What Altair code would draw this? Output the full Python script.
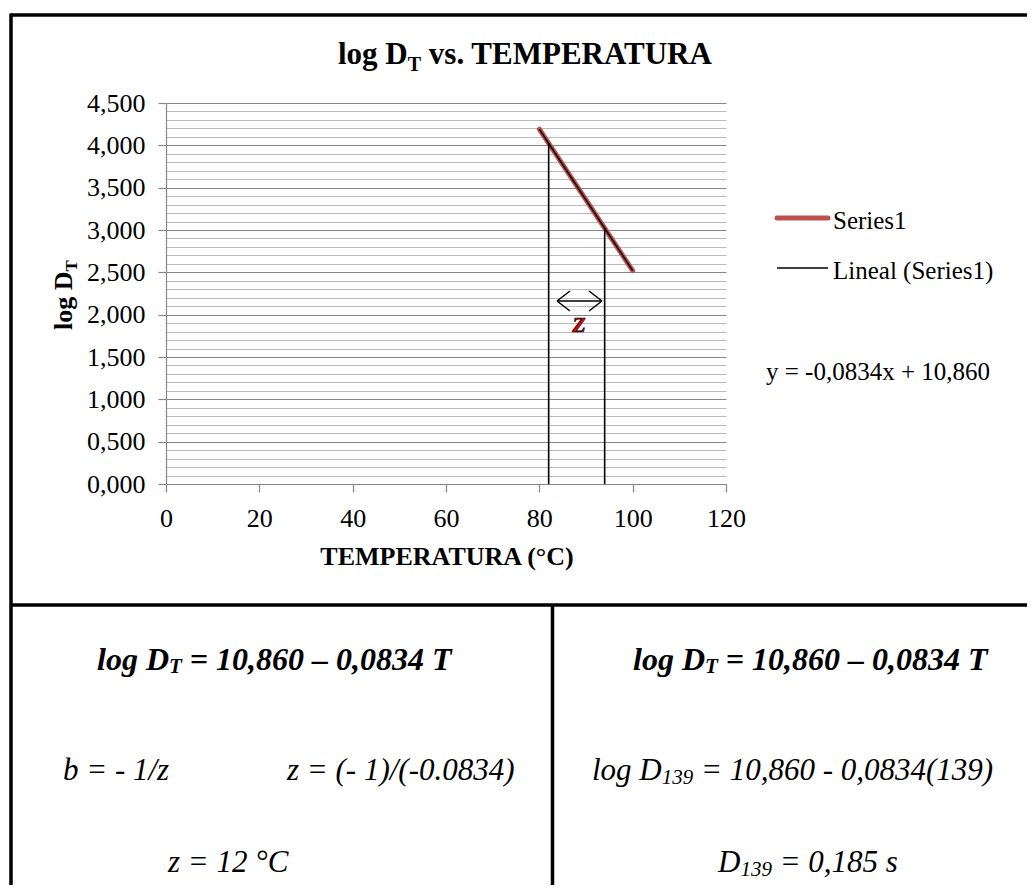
import altair as alt
import pandas as pd

# ---------------- data ----------------
temps = [80, 100]                 # Series1 temperatures (°C)
log_dt = [4.19, 2.52]             # Series1 log D_T
trend_temps = [80, 100]           # Lineal (Series1)
trend_vals = [4.19, 2.52]
z_temps = [82, 94]                # vertical guide lines marking z
z_tops = [4.02, 3.02]
x_ticks = [0, 20, 40, 60, 80, 100, 120]
y_ticks = [round(i * 0.1, 1) for i in range(46)]   # gridlines every 0,100; labels every 0,500

# ---------------- layout ----------------
SERIF = "Liberation Serif"
OX, OY = 166, 103          # page position of plot origin (top-left)
W, H = 560, 381

# Times / Liberation Serif advance widths (1/1000 em)
_R = {' ': 250, '(': 333, ')': 333, ',': 250, '-': 333, '.': 250, '/': 278, '=': 564, '+': 564,
      '°': 400, '–': 500, 'A': 722, 'C': 667, 'D': 722, 'E': 611, 'L': 611, 'M': 889, 'P': 556,
      'R': 667, 'S': 556, 'T': 611, 'U': 722, 'a': 444, 'b': 500, 'e': 444, 'g': 500, 'i': 278,
      'l': 278, 'n': 500, 'o': 500, 'r': 333, 's': 389, 'v': 500, 'x': 500, 'y': 500, 'z': 444}
_I = {' ': 250, '(': 333, ')': 333, ',': 250, '-': 333, '.': 250, '/': 278, '=': 675, '°': 400,
      '–': 500, 'C': 667, 'D': 722, 'T': 556, 'b': 500, 'g': 500, 'l': 278, 'o': 500, 's': 389,
      'z': 389}
_B = {' ': 250, '(': 333, ')': 333, '.': 250, '°': 400, 'A': 722, 'C': 722, 'D': 722, 'E': 667,
      'M': 944, 'P': 611, 'R': 722, 'T': 667, 'U': 722, 'g': 500, 'l': 278, 'o': 500, 's': 389,
      'v': 500}
_BI = {' ': 250, ',': 250, '=': 570, '–': 500, 'D': 722, 'T': 611, 'g': 500, 'l': 278, 'o': 500}


def text_width(s, size, weight, style):
    if weight == "bold" and style == "italic":
        t = _BI
    elif weight == "bold":
        t = _B
    elif style == "italic":
        t = _I
    else:
        t = _R
    return sum(t.get(c, 500) for c in s) / 1000.0 * size


def label(text, x, y, size, weight="normal", style="normal", color="black",
          align="left", angle=0, stroke=None, stroke_width=0):
    kw = dict(text=text, font=SERIF, fontSize=size, fontWeight=weight, fontStyle=style,
              color=color, align=align, baseline="alphabetic", angle=angle)
    if stroke:
        kw.update(stroke=stroke, strokeWidth=stroke_width)
    return alt.Chart(alt.Data(values=[{}])).mark_text(**kw).encode(
        x=alt.value(x - OX), y=alt.value(y - OY))


def run(pieces, x, y, angle=0):
    out = []
    pos = 0.0
    for text, size, weight, style, dy in pieces:
        stripped = text.lstrip(" ")
        pos += text_width(text[:len(text) - len(stripped)], size, weight, style)
        if angle == 0:
            px, py = x + pos, y + dy
        else:
            px, py = x + dy, y - pos
        out.append(label(stripped, px, py, size, weight, style, angle=angle))
        pos += text_width(stripped, size, weight, style)
    return out


def line(x1, y1, x2, y2, width=1.5, color="black", cap="butt"):
    return alt.Chart(alt.Data(values=[{}])).mark_rule(
        color=color, strokeWidth=width, strokeCap=cap).encode(
        x=alt.value(x1 - OX), x2=alt.value(x2 - OX),
        y=alt.value(y1 - OY), y2=alt.value(y2 - OY))


MAJOR = "abs(datum.value*2 - round(datum.value*2)) < 0.001"

series_df = pd.DataFrame({"T": temps, "logD": log_dt})
trend_df = pd.DataFrame({"T": trend_temps, "logD": trend_vals})
z_df = pd.DataFrame({"T": z_temps, "y0": [0, 0], "y1": z_tops})

xscale = alt.Scale(domain=[0, 120], nice=False, zero=False)
yscale = alt.Scale(domain=[0, 4.5], nice=False)

x_axis = alt.Axis(
    values=x_ticks, grid=False, title=None, domainColor="#868686", domainWidth=1.2,
    tickColor="#868686", tickSize=8, tickWidth=1.2, labelFont=SERIF, labelFontSize=26,
    labelColor="black", labelBaseline="alphabetic", labelPadding=34, labelFlush=False,
    labelOverlap=False)
y_axis = alt.Axis(
    values=y_ticks, grid=True,
    gridColor={"condition": {"test": MAJOR, "value": "#868686"}, "value": "#bababa"},
    gridWidth=1.2, gridOpacity=1, domainColor="#868686", domainWidth=1.2,
    tickColor="#868686", tickWidth=1.2,
    tickOpacity={"condition": {"test": MAJOR, "value": 1}, "value": 0},
    tickSize=8, title=None, labelFont=SERIF, labelFontSize=26, labelColor="black",
    labelPadding=13, labelOverlap=False, labelBaseline="middle",
    labelExpr="abs(datum.value*2 - round(datum.value*2)) < 0.001 ? "
              "replace(format(datum.value, '.3f'), '.', ',') : ''")

base = alt.Chart(series_df).mark_line(color="#C0504D", strokeWidth=5, strokeCap="round").encode(
    x=alt.X("T:Q", scale=xscale, axis=x_axis),
    y=alt.Y("logD:Q", scale=yscale, axis=y_axis),
)

trend = alt.Chart(trend_df).mark_line(color="black", strokeWidth=1.5).encode(
    x=alt.X("T:Q", scale=xscale, axis=x_axis),
    y=alt.Y("logD:Q", scale=yscale, axis=y_axis))

zlines = alt.Chart(z_df).mark_rule(color="black", strokeWidth=1.6).encode(
    x=alt.X("T:Q", scale=xscale, axis=x_axis),
    y=alt.Y("y0:Q", scale=yscale, axis=y_axis),
    y2="y1:Q")

layers = [base, trend, zlines]

# frame lines
layers += [
    line(11, 15, 1040, 15, width=3.5),
    line(11, 13.5, 11, 900, width=3.5),
    line(11, 605, 1040, 605, width=3.5),
    line(552.5, 605, 552.5, 900, width=3.5),
]

# title
layers += run([("log D", 31, "bold", "normal", 0), ("T", 20, "bold", "normal", 7),
               (" vs. TEMPERATURA", 31, "bold", "normal", 0)], 338, 64)
# axis titles
layers.append(label("TEMPERATURA (°C)", 447, 565, 26, weight="bold", align="center"))
layers += run([("log D", 26, "bold", "normal", 0), ("T", 17, "bold", "normal", 5)], 72, 330,
              angle=270)

# legend
layers += [
    line(777, 218, 828, 218, width=5, color="#C0504D", cap="round"),
    label("Series1", 833, 229, 25),
    line(777, 268, 828, 268, width=1.5),
    label("Lineal (Series1)", 833, 279, 25),
    label("y = -0,0834x + 10,860", 766, 380, 25),
]

# z arrow annotation
layers += [
    line(557, 301, 602, 301, width=1.5),
    line(557, 301, 570, 291, width=1.5),
    line(557, 301, 570, 311, width=1.5),
    line(602, 301, 589, 291, width=1.5),
    line(602, 301, 589, 311, width=1.5),
    label("Z", 579, 332, 22, weight="bold", style="italic", color="#e00000", align="center",
          stroke="black", stroke_width=0.7),
]

# bottom table
eq_bold = [("log D", 32, "bold", "italic", 0), ("T", 21, "bold", "italic", 3),
           (" = 10,860 – 0,0834 T", 32, "bold", "italic", 0)]
layers += run(eq_bold, 97, 670)
layers += run(eq_bold, 633, 670)
layers.append(label("b = - 1/z", 63, 780, 31, style="italic"))
layers.append(label("z = (- 1)/(-0.0834)", 287, 780, 31, style="italic"))
layers += run([("log D", 31, "normal", "italic", 0), ("139", 21, "normal", "italic", 4),
               (" = 10,860 - 0,0834(139)", 31, "normal", "italic", 0)], 592, 780)
layers.append(label("z = 12 °C", 168, 872, 31, style="italic"))
layers += run([("D", 31, "normal", "italic", 0), ("139", 21, "normal", "italic", 4),
               (" = 0,185 s", 31, "normal", "italic", 0)], 718, 872)

chart = alt.layer(*layers).properties(
    width=W, height=H,
    autosize=alt.AutoSizeParams(type="none"),
    padding={"left": OX - 8, "top": OY - 8, "right": 1027 - OX - W, "bottom": 885 - OY - H},
    background="white",
).configure_view(stroke=None)

chart.save("out.html", embed_options={"renderer": "svg", "actions": False})
